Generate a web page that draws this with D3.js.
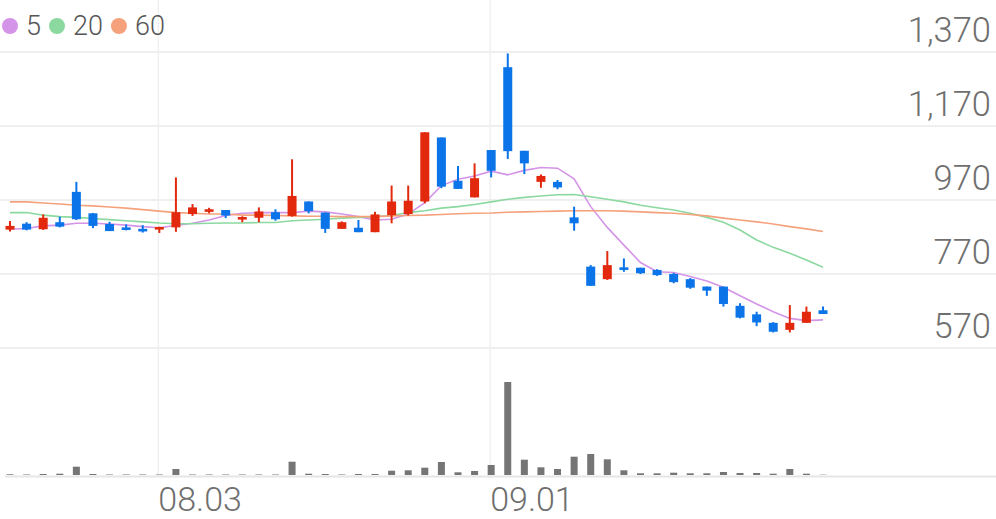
<!DOCTYPE html>
<html>
<head>
<meta charset="utf-8">
<script src="https://cdn.jsdelivr.net/npm/d3@7"></script>
<style>
  html, body { margin: 0; padding: 0; background: #fff; }
  #chart { width: 996px; height: 519px; overflow: hidden; }
  text { font-family: Roboto, "Noto Sans", sans-serif; }
</style>
</head>
<body>
<div id="chart"></div>
<script>
// trading days (MM.DD)
const dates = [
  '07.21','07.22','07.23','07.24','07.27','07.28','07.29','07.30','07.31',
  '08.03','08.04','08.05','08.06','08.07','08.10','08.11','08.12','08.13','08.14',
  '08.18','08.19','08.20','08.21','08.24','08.25','08.26','08.27','08.28','08.31',
  '09.01','09.02','09.03','09.04','09.07','09.08','09.09','09.10','09.11','09.14',
  '09.15','09.16','09.17','09.18','09.21','09.22','09.23','09.24','09.25','09.28','09.29'
];

const opens  = [890, 906, 891, 910, 992, 934, 905, 896, 892, 890, 896, 932, 938, 943, 917, 922, 937, 927, 966, 936,
                892, 895, 883, 929, 932, 966, 1139, 1022, 977, 1105, 1329, 1103, 1019, 1019, 923, 790, 756, 788, 787, 781,
                770, 756, 736, 736, 684, 661, 638, 619, 638, 672];
const highs  = [913, 910, 931, 925, 1019, 935, 911, 904, 902, 898, 1031, 959, 949, 943, 926, 950, 945, 1080, 966, 936,
                912, 916, 938, 1009, 1009, 1153, 1139, 1062, 1069, 1105, 1366, 1103, 1039, 1024, 952, 794, 832, 812, 787, 783,
                773, 759, 736, 736, 691, 668, 640, 686, 682, 682];
const lows   = [885, 888, 889, 896, 916, 894, 886, 888, 882, 881, 884, 927, 934, 921, 910, 910, 914, 925, 934, 881,
                892, 883, 883, 907, 928, 961, 1002, 1000, 977, 1031, 1081, 1040, 1003, 999, 887, 738, 754, 776, 770, 765,
                745, 730, 711, 682, 650, 629, 612, 612, 638, 662];
const closes = [900, 890, 922, 898, 918, 900, 886, 889, 885, 897, 937, 950, 945, 928, 924, 939, 918, 981, 940, 892,
                910, 883, 931, 966, 968, 1153, 1006, 1000, 1029, 1049, 1102, 1069, 1035, 1004, 907, 738, 794, 781, 772, 767,
                748, 733, 725, 689, 652, 639, 614, 638, 668, 662];
const volumes = [7, 5, 10, 13, 83, 10, 5, 5, 5, 5, 60, 5, 5, 5, 5, 5, 5, 133, 13, 10,
                 5, 10, 10, 43, 47, 73, 130, 27, 40, 100, 930, 153, 77, 60, 183, 210, 157, 47, 17, 17,
                 23, 17, 17, 30, 20, 20, 13, 60, 13, 3];

const ma5  = [891, 893, 900, 902, 907, 907, 905, 902, 898, 895, 901, 907, 916, 928, 934, 936, 936, 936, 940, 938,
              932, 925, 916, 918, 932, 963, 1009, 1026, 1035, 1048, 1038, 1050, 1058, 1056, 1027, 952, 896, 848, 801, 776,
              774, 763, 751, 734, 711, 689, 668, 650, 644, 646];
const ma20 = [936, 936, 929, 925, 923, 920, 917, 914, 911, 908, 906, 906, 907, 908, 908, 909, 909, 914, 916, 918,
              921, 923, 925, 928, 936, 941, 948, 952, 958, 965, 972, 977, 981, 984, 985, 979, 972, 965, 956, 949,
              943, 934, 923, 910, 889, 862, 842, 826, 808, 788];
const ma60 = [965, 965, 962, 959, 956, 954, 951, 948, 944, 940, 936, 934, 932, 932, 929, 929, 928, 927, 926, 926,
              925, 925, 925, 927, 928, 929, 931, 933, 934, 935, 937, 938, 939, 940, 941, 941, 941, 940, 938, 936,
              934, 931, 927, 921, 916, 911, 905, 898, 892, 885];

const priceTicks = [570, 770, 970, 1170, 1370];
const dateTicks = ['08.03', '09.01'];
const maSeries = [
  { label: '5',  values: ma5,  color: '#d494e8' },
  { label: '20', values: ma20, color: '#8bd9a0' },
  { label: '60', values: ma60, color: '#f5a27c' }
];

class CandleChart {
  constructor(_config, _data) {
    this.config = {
      parentElement: _config.parentElement,
      width: _config.width || 996,
      height: _config.height || 519
    };
    this.data = _data;
    this.initVis();
  }

  initVis() {
    let vis = this;

    vis.svg = d3.select(vis.config.parentElement).append('svg')
      .attr('width', vis.config.width)
      .attr('height', vis.config.height);

    vis.x = d3.scalePoint()
      .domain(dates)
      .range([10, 823]);

    vis.y = d3.scaleLinear()
      .domain([570, 1370])
      .range([348, 52]);

    vis.yVol = d3.scaleLinear()
      .domain([0, d3.max(volumes)])
      .range([475, 382]);

    vis.upColor = '#e2290d';
    vis.downColor = '#0a74e8';

    vis.renderVis();
  }

  renderVis() {
    let vis = this;

    // vertical date gridlines
    vis.svg.selectAll('.x-grid')
      .data(dateTicks)
      .join('line')
      .attr('class', 'x-grid')
      .attr('x1', d => vis.x(d) - 1)
      .attr('x2', d => vis.x(d) - 1)
      .attr('y1', 0)
      .attr('y2', 476)
      .attr('stroke', '#f0f0f0')
      .attr('stroke-width', 1.5);

    // price gridlines + labels
    vis.svg.selectAll('.y-grid')
      .data(priceTicks)
      .join('line')
      .attr('class', 'y-grid')
      .attr('x1', 0)
      .attr('x2', vis.config.width)
      .attr('y1', d => vis.y(d))
      .attr('y2', d => vis.y(d))
      .attr('stroke', '#efefef')
      .attr('stroke-width', 2);

    vis.svg.selectAll('.y-label')
      .data(priceTicks)
      .join('text')
      .attr('class', 'y-label')
      .attr('x', 991)
      .attr('y', d => vis.y(d) - 10.5)
      .attr('text-anchor', 'end')
      .attr('font-size', 34.5)
      .attr('font-weight', 300)
      .attr('fill', '#6f6f6f')
      .text(d => d3.format(',')(d));

    // volume bars
    vis.svg.selectAll('.vol')
      .data(vis.data)
      .join('rect')
      .attr('class', 'vol')
      .attr('x', d => vis.x(d.date) - 3.5)
      .attr('width', 7)
      .attr('y', d => vis.yVol(d.volume))
      .attr('height', d => 475 - vis.yVol(d.volume))
      .attr('fill', '#757575');

    // bottom axis line
    vis.svg.append('line')
      .attr('x1', 5)
      .attr('x2', vis.config.width)
      .attr('y1', 476.5)
      .attr('y2', 476.5)
      .attr('stroke', '#e6e6e6')
      .attr('stroke-width', 2);

    vis.svg.selectAll('.x-label')
      .data(dateTicks)
      .join('text')
      .attr('class', 'x-label')
      .attr('x', d => vis.x(d) - 1)
      .attr('y', 510.5)
      .attr('font-size', 34)
      .attr('font-weight', 300)
      .attr('fill', '#6f6f6f')
      .text(d => d);

    // moving averages
    const line = d3.line()
      .x((v, i) => vis.x(dates[i]))
      .y(v => vis.y(v));

    vis.svg.selectAll('.ma')
      .data(maSeries)
      .join('path')
      .attr('class', 'ma')
      .attr('d', d => line(d.values))
      .attr('fill', 'none')
      .attr('stroke', d => d.color)
      .attr('stroke-width', 1.6);

    // candles
    const candle = vis.svg.selectAll('.candle')
      .data(vis.data)
      .join('g')
      .attr('class', 'candle')
      .attr('fill', d => d.close >= d.open ? vis.upColor : vis.downColor)
      .attr('stroke', d => d.close >= d.open ? vis.upColor : vis.downColor);

    candle.append('line')
      .attr('x1', d => vis.x(d.date))
      .attr('x2', d => vis.x(d.date))
      .attr('y1', d => vis.y(d.high))
      .attr('y2', d => vis.y(d.low))
      .attr('stroke-width', 2);

    candle.append('rect')
      .attr('x', d => vis.x(d.date) - 4.5)
      .attr('width', 9)
      .attr('y', d => vis.y(Math.max(d.open, d.close)))
      .attr('height', d => Math.max(1.5, Math.abs(vis.y(d.open) - vis.y(d.close))))
      .attr('stroke', 'none');

    // legend
    let lx = 10;
    const legend = vis.svg.append('g');
    maSeries.forEach(s => {
      legend.append('circle')
        .attr('cx', lx)
        .attr('cy', 26)
        .attr('r', 8)
        .attr('fill', s.color);
      const t = legend.append('text')
        .attr('x', lx + 16)
        .attr('y', 35)
        .attr('font-size', 27)
        .attr('font-weight', 300)
        .attr('fill', '#555')
        .text(s.label);
      lx += 16 + t.node().getComputedTextLength() + 16;
    });
  }
}

const chartData = dates.map((d, i) => ({
  date: d,
  open: opens[i],
  high: highs[i],
  low: lows[i],
  close: closes[i],
  volume: volumes[i]
}));

new CandleChart({ parentElement: '#chart' }, chartData);
</script>
</body>
</html>
